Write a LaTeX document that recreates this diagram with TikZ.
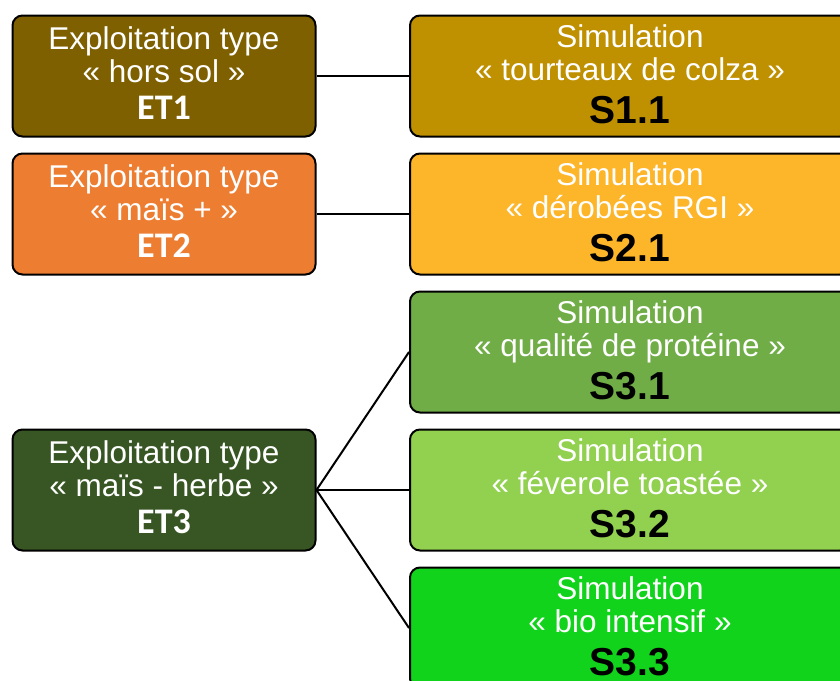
\documentclass[tikz,border=0pt]{standalone}
\usepackage{fontspec}
\setmainfont{Liberation Sans}
\newfontfamily\carlito{Carlito}
\usetikzlibrary{calc}
\definecolor{cET1}{HTML}{7F6000}
\definecolor{cS11}{HTML}{BF9000}
\definecolor{cET2}{HTML}{ED7D31}
\definecolor{cS21}{HTML}{FDB52A}
\definecolor{cET3}{HTML}{375623}
\definecolor{cS31}{HTML}{70AD47}
\definecolor{cS32}{HTML}{92D050}
\definecolor{cS33}{HTML}{12D31C}
\begin{document}
\begin{tikzpicture}[x=1pt,y=-1pt,
  basebox/.style={draw=black, line width=2pt, rounded corners=10pt, inner sep=0pt, minimum height=121pt},
  lbox/.style={basebox, minimum width=303pt},
  rbox/.style={basebox, minimum width=440pt},
  wtxt/.style={anchor=base, inner sep=0pt, text=white, font=\fontsize{31.5}{33}\selectfont},
  etlab/.style={anchor=base, inner sep=0pt, text=white, font=\carlito\bfseries\fontsize{36}{36}\selectfont},
  slab/.style={anchor=base, inner sep=0pt, text=black, font=\bfseries\fontsize{39}{39}\selectfont},
  link/.style={draw=black, line width=2pt}]
\useasboundingbox (0,0) rectangle (840,680);

% left boxes
\node[lbox, fill=cET1] (et1) at (164,76) {};
\node[wtxt] (et1a) at ($(et1.center)+(0,-27)$) {Exploitation type};
\node[wtxt] (et1b) at ($(et1.center)+(0,6)$) {« hors sol »};
\node[etlab] (et1c) at ($(et1.center)+(0,43)$) {ET1};

\node[lbox, fill=cET2] (et2) at (164,214) {};
\node[wtxt] (et2a) at ($(et2.center)+(0,-27)$) {Exploitation type};
\node[wtxt] (et2b) at ($(et2.center)+(0,6)$) {« maïs + »};
\node[etlab] (et2c) at ($(et2.center)+(0,43)$) {ET2};

\node[lbox, fill=cET3] (et3) at (164,490) {};
\node[wtxt] (et3a) at ($(et3.center)+(0,-27)$) {Exploitation type};
\node[wtxt] (et3b) at ($(et3.center)+(0,6)$) {« maïs - herbe »};
\node[etlab] (et3c) at ($(et3.center)+(0,43)$) {ET3};

% right boxes
\node[rbox, fill=cS11] (s11) at (630,76) {};
\node[wtxt] (s11a) at ($(s11.center)+(0,-28.5)$) {Simulation};
\node[wtxt] (s11b) at ($(s11.center)+(0,4.5)$) {« tourteaux de colza »};
\node[slab] (s11c) at ($(s11.center)+(0,47.5)$) {S1.1};

\node[rbox, fill=cS21] (s21) at (630,214) {};
\node[wtxt] (s21a) at ($(s21.center)+(0,-28.5)$) {Simulation};
\node[wtxt] (s21b) at ($(s21.center)+(0,4.5)$) {« dérobées RGI »};
\node[slab] (s21c) at ($(s21.center)+(0,47.5)$) {S2.1};

\node[rbox, fill=cS31] (s31) at (630,352) {};
\node[wtxt] (s31a) at ($(s31.center)+(0,-28.5)$) {Simulation};
\node[wtxt] (s31b) at ($(s31.center)+(0,4.5)$) {« qualité de protéine »};
\node[slab] (s31c) at ($(s31.center)+(0,47.5)$) {S3.1};

\node[rbox, fill=cS32] (s32) at (630,490) {};
\node[wtxt] (s32a) at ($(s32.center)+(0,-28.5)$) {Simulation};
\node[wtxt] (s32b) at ($(s32.center)+(0,4.5)$) {« féverole toastée »};
\node[slab] (s32c) at ($(s32.center)+(0,47.5)$) {S3.2};

\node[rbox, fill=cS33] (s33) at (630,628) {};
\node[wtxt] (s33a) at ($(s33.center)+(0,-28.5)$) {Simulation};
\node[wtxt] (s33b) at ($(s33.center)+(0,4.5)$) {« bio intensif »};
\node[slab] (s33c) at ($(s33.center)+(0,47.5)$) {S3.3};

% connectors
\draw[link] (et1.east) -- (s11.west);
\draw[link] (et2.east) -- (s21.west);
\draw[link] (et3.east) -- (s31.west);
\draw[link] (et3.east) -- (s32.west);
\draw[link] (et3.east) -- (s33.west);
\end{tikzpicture}
\end{document}
